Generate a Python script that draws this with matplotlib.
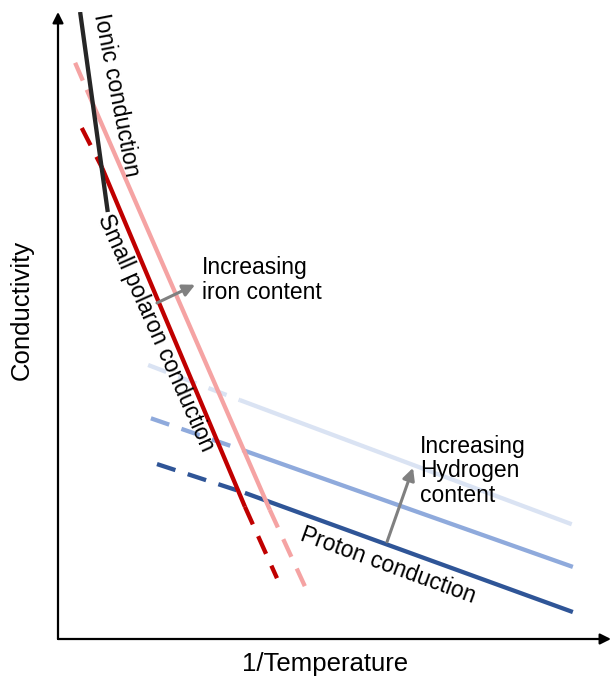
import matplotlib.pyplot as plt

plt.rcParams['font.family'] = ['Liberation Sans', 'DejaVu Sans']

# Schematic conduction lines, arbitrary units (x = 1/T, y = log conductivity)
# each line: [dash start, solid start, solid end, dash end]
ionic_x = [0.40, 0.90]
ionic_y = [10.0, 6.81]

iron_hi_x = [0.31, 0.52, 3.83, 4.47]
iron_hi_y = [9.19, 8.76, 2.06, 0.83]
iron_lo_x = [0.43, 0.80, 3.38, 3.96]
iron_lo_y = [8.15, 7.51, 2.11, 0.97]

proton_lo_x = [1.79, 3.38, 9.31]
proton_lo_y = [2.79, 2.33, 0.43]
proton_mid_x = [1.68, 3.35, 9.31]
proton_mid_y = [3.52, 3.01, 1.15]
proton_hi_x = [1.63, 3.29, 9.29]
proton_hi_y = [4.37, 3.81, 1.83]

fig = plt.figure(figsize=(6.11, 6.79), dpi=100)
ax = fig.add_axes([58 / 611, 40 / 679, 553 / 611, 627 / 679])
ax.set_xlim(0, 10)
ax.set_ylim(0, 10)
ax.axis('off')

lw = 3.1
dash = (0, (4.5, 3))

# proton conduction (blue), drawn first so the red lines sit on top
for xs, ys, c in [(proton_hi_x, proton_hi_y, '#dae3f3'),
                  (proton_mid_x, proton_mid_y, '#8faadc'),
                  (proton_lo_x, proton_lo_y, '#2f5597')]:
    ax.plot(xs[:2], ys[:2], color=c, lw=lw, ls=dash, solid_capstyle='butt')
    ax.plot(xs[1:], ys[1:], color=c, lw=lw, solid_capstyle='butt')

# small polaron conduction (reds)
for xs, ys, c in [(iron_hi_x, iron_hi_y, '#f5a3a3'),
                  (iron_lo_x, iron_lo_y, '#c00000')]:
    ax.plot(xs[:2], ys[:2], color=c, lw=lw, ls=dash)
    ax.plot(xs[1:3], ys[1:3], color=c, lw=lw, solid_capstyle='butt')
    ax.plot(xs[2:], ys[2:], color=c, lw=lw, ls=dash)

# ionic conduction
ax.plot(ionic_x, ionic_y, color='#262626', lw=lw, solid_capstyle='butt')

# axes with arrow heads
axis_kw = dict(arrowstyle='-|>', color='black', lw=1.6, mutation_scale=16,
               shrinkA=0, shrinkB=0)
ax.annotate('', xy=(0, 1), xytext=(0, 0), xycoords='axes fraction',
            arrowprops=axis_kw, annotation_clip=False)
ax.annotate('', xy=(1, 0), xytext=(0, 0), xycoords='axes fraction',
            arrowprops=axis_kw, annotation_clip=False)

fs = 16.5
ax.text(-0.65, 5.25, 'Conductivity', rotation=90, fontsize=18.5,
        ha='center', va='center')
ax.text(4.83, -0.40, '1/Temperature', fontsize=18.5, ha='center', va='center')

ax.text(1.05, 8.67, 'Ionic conduction', rotation=-79, rotation_mode='anchor',
        fontsize=fs, ha='center', va='center')
ax.text(1.77, 4.88, 'Small polaron conduction', rotation=-66,
        rotation_mode='anchor', fontsize=fs, ha='center', va='center')
ax.text(5.97, 1.18, 'Proton conduction', rotation=-20, rotation_mode='anchor',
        fontsize=fs, ha='center', va='center')

ax.text(2.60, 5.73, 'Increasing\niron content', fontsize=fs,
        ha='left', va='center', linespacing=1.1)
ax.text(6.55, 2.68, 'Increasing\nHydrogen\ncontent', fontsize=fs,
        ha='left', va='center', linespacing=1.1)

# gray trend arrows
trend_kw = dict(arrowstyle='-|>', color='#808080', lw=2.2, mutation_scale=18,
                shrinkA=0, shrinkB=0)
ax.annotate('', xy=(2.48, 5.65), xytext=(1.79, 5.36), arrowprops=trend_kw)
ax.annotate('', xy=(6.42, 2.73), xytext=(5.95, 1.55), arrowprops=trend_kw)

fig.savefig('out.png', dpi=100)
